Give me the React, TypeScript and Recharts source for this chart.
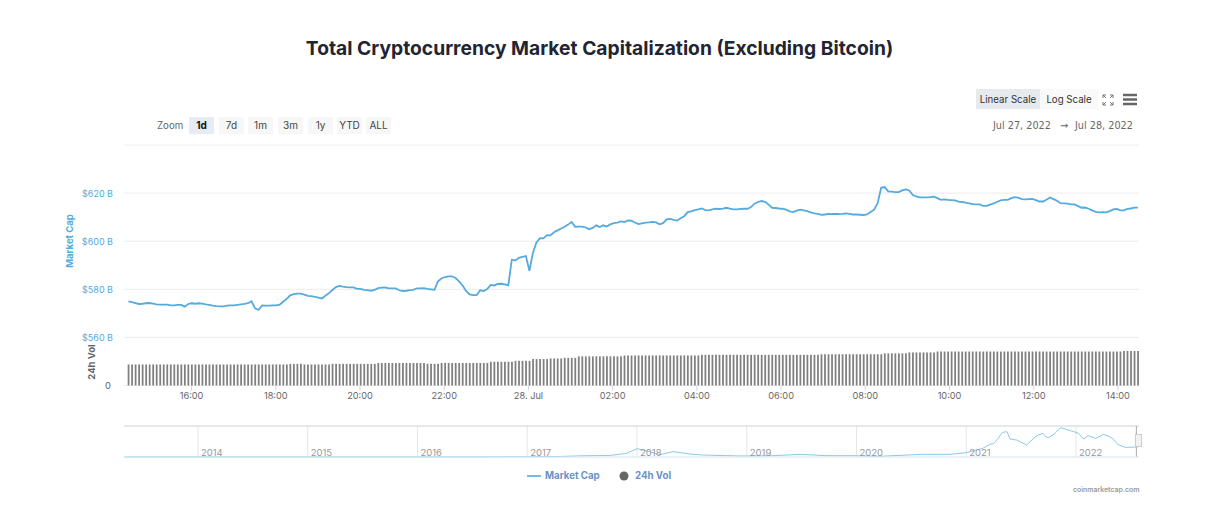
import React from 'react';
import {
  Bar,
  CartesianGrid,
  ComposedChart,
  Line,
  LineChart,
  ReferenceLine,
  XAxis,
  YAxis,
} from 'recharts';

const marketCap = [
  575.0, 574.7, 574.3, 573.9, 574.0, 574.2, 574.3, 574.0, 573.7, 573.6, 573.6, 573.6,
  573.3, 573.3, 573.5, 573.5, 572.8, 573.9, 574.2, 574.0, 574.2, 574.0, 573.7, 573.5,
  573.2, 573.0, 572.9, 572.9, 573.2, 573.3, 573.3, 573.5, 573.7, 573.9, 574.2, 575.0,
  572.1, 571.4, 573.3, 573.2, 573.2, 573.3, 573.3, 573.6, 574.8, 576.0, 577.5, 578.0,
  578.2, 578.2, 577.8, 577.3, 577.2, 576.9, 576.5, 576.2, 577.3, 578.4, 579.7, 580.9,
  581.4, 581.1, 580.9, 580.8, 580.8, 580.2, 580.2, 579.8, 579.7, 579.4, 579.8, 580.5,
  580.7, 580.8, 580.4, 580.4, 580.4, 579.6, 579.3, 579.4, 579.7, 579.8, 580.4, 580.4,
  580.5, 580.2, 580.0, 579.8, 583.3, 584.5, 585.1, 585.4, 585.4, 584.7, 583.3, 581.6,
  579.3, 577.9, 577.6, 577.6, 579.6, 579.3, 580.1, 581.8, 581.6, 582.2, 582.3, 582.0,
  581.6, 592.3, 592.0, 593.1, 593.5, 593.8, 587.7, 595.1, 599.5, 601.3, 601.2, 602.5,
  602.4, 603.7, 604.5, 605.3, 606.0, 606.9, 608.0, 606.0, 606.1, 606.1, 605.7, 605.0,
  605.5, 606.6, 605.9, 606.6, 606.1, 607.0, 607.5, 607.7, 608.2, 608.0, 608.6, 608.5,
  607.8, 607.1, 607.4, 607.7, 607.8, 608.0, 607.8, 607.0, 607.5, 609.1, 609.3, 608.9,
  608.6, 609.5, 610.4, 612.1, 612.4, 612.9, 613.2, 613.6, 612.9, 612.8, 613.2, 613.5,
  613.4, 613.5, 613.9, 613.5, 613.2, 613.2, 613.4, 613.5, 613.5, 614.2, 615.6, 616.3,
  616.7, 616.4, 615.2, 613.9, 613.8, 613.6, 613.5, 613.1, 612.4, 612.1, 612.7, 613.1,
  612.8, 612.5, 612.0, 611.6, 611.4, 611.0, 611.1, 611.4, 611.3, 611.3, 611.3, 611.4,
  611.6, 611.4, 611.1, 611.1, 611.0, 610.9, 611.1, 612.1, 613.1, 615.8, 622.2, 622.5,
  620.7, 620.6, 620.4, 620.4, 621.1, 621.5, 621.1, 619.2, 618.6, 618.2, 618.2, 618.2,
  618.3, 618.5, 617.9, 617.2, 617.4, 617.2, 617.1, 617.0, 616.5, 616.3, 616.0, 615.7,
  615.4, 615.3, 615.3, 614.7, 614.7, 615.2, 615.7, 616.4, 617.0, 617.2, 617.2, 617.9,
  618.3, 618.1, 617.5, 617.4, 617.5, 617.6, 617.1, 616.5, 616.5, 617.2, 618.2, 617.5,
  616.8, 615.8, 615.7, 615.6, 615.3, 615.3, 614.6, 613.9, 614.0, 613.5, 612.8, 612.2,
  612.0, 612.1, 612.0, 612.5, 613.2, 613.4, 612.8, 612.8, 613.4, 613.6, 614.0, 614.0,
];

const volume = [
  70, 70, 70, 70, 70, 70, 70, 70, 70, 70, 70, 70, 70, 70, 70, 70, 70, 70, 70, 70, 70, 70, 70, 70,
  70, 70, 70, 70, 70, 70, 70, 70, 70, 70, 70, 70, 70, 70, 70, 70, 70, 70, 70, 70, 70, 70, 72, 72,
  72, 72, 70, 70, 70, 70, 70, 70, 70, 70, 72, 72, 72, 72, 72, 72, 72, 72, 72, 72, 72, 72, 72, 75,
  75, 75, 75, 75, 75, 75, 75, 75, 75, 75, 75, 75, 75, 72, 72, 72, 72, 75, 75, 75, 75, 75, 75, 75,
  75, 75, 75, 75, 75, 75, 75, 79, 79, 79, 79, 79, 79, 79, 82, 82, 82, 82, 82, 88, 88, 88, 88, 88,
  90, 90, 90, 90, 92, 92, 92, 92, 97, 97, 97, 97, 97, 97, 97, 97, 97, 97, 97, 97, 97, 100, 100, 100,
  100, 100, 100, 100, 100, 100, 100, 100, 100, 100, 100, 100, 100, 100, 100, 100, 100, 100, 100, 102, 102, 102, 102, 102,
  102, 102, 102, 102, 102, 102, 102, 102, 102, 102, 102, 102, 102, 102, 102, 102, 102, 102, 102, 102, 102, 102, 102, 102,
  102, 102, 102, 102, 102, 104, 104, 104, 104, 104, 104, 104, 104, 104, 104, 104, 104, 104, 104, 104, 104, 104, 104, 107, 107,
  107, 107, 107, 107, 107, 110, 110, 110, 110, 110, 110, 110, 110, 113, 113, 113, 113, 113, 113, 113, 113, 113, 113, 113,
  113, 113, 113, 113, 113, 113, 113, 113, 113, 113, 113, 113, 113, 113, 113, 113, 113, 113, 113, 113, 113, 113, 113, 113,
  113, 113, 113, 113, 113, 113, 113, 113, 113, 113, 113, 113, 113, 113, 113, 113, 113, 113, 115, 115, 115, 115, 115, 115,
];

// hours counted from Jul 27 00:00
const hourTicks = [16, 18, 20, 22, 24, 26, 28, 30, 32, 34, 36, 38];
const capTicks = [540, 560, 580, 600, 620, 640];

const navYears = [
  2013.33, 2014, 2015, 2016, 2017, 2017.3, 2017.5, 2017.75, 2017.9, 2018, 2018.05, 2018.21, 2018.33,
  2018.48, 2018.6, 2018.94, 2019.24, 2019.49, 2019.73, 2020, 2020.21, 2020.6, 2020.85, 2021, 2021.15,
  2021.21, 2021.25, 2021.29, 2021.33, 2021.37, 2021.4, 2021.46, 2021.55, 2021.63, 2021.66, 2021.7, 2021.72, 2021.75, 2021.8, 2021.86,
  2021.98, 2022.02, 2022.07, 2022.11, 2022.18, 2022.25, 2022.3, 2022.34, 2022.38, 2022.45, 2022.56,
];
const navCaps = [
  3, 4, 5, 6, 12, 30, 70, 90, 200, 480, 420, 135, 310,
  175, 115, 60, 77, 155, 77, 77, 40, 155, 155, 250, 500,
  730, 780, 1080, 1430, 1470, 1040, 985, 695, 1180, 1290, 1370, 1190, 1120, 1330, 1700,
  1470, 1380, 1040, 1235, 1080, 1310, 1200, 1040, 730, 560, 580,
];
const navTicks = [2014, 2015, 2016, 2017, 2018, 2019, 2020, 2021, 2022];

const zoomButtons = ['1d', '7d', '1m', '3m', '1y', 'YTD', 'ALL'];
const zoomLefts = [189, 219, 248, 278, 308, 337, 366];

const chartData = marketCap.map((cap, i) => ({
  hour: 14.5 + (i * 5.012) / 60,
  cap,
  vol: volume[i],
}));
const navData = navYears.map((year, i) => ({ year, cap: navCaps[i] }));

const UI_FONT = 'Inter, sans-serif';
const LINE_COLOR = '#55aade';

const hourLabel = (h: number) => {
  if (h === 24) return '28. Jul';
  return `${String(h % 24).padStart(2, '0')}:00`;
};

const NavTick = ({ x, y, payload }: any) => (
  <text x={x + 3} y={y - 9} fontSize={9.5} fill="#999" fontFamily={UI_FONT}>
    {payload.value}
  </text>
);

const CapTick = ({ y, payload }: any) =>
  payload.value === 540 || payload.value === 640 ? null : (
    <text x={113} y={y + 4} textAnchor="end" fontSize={9} fill={LINE_COLOR} fontFamily={UI_FONT}>
      {`$${payload.value} B`}
    </text>
  );

const VolTick = ({ y, payload }: any) => (
  <text x={111} y={y + 3} textAnchor="end" fontSize={9.5} fill="#666" fontFamily={UI_FONT}>
    {payload.value}
  </text>
);

const abs = (left: number, top: number, extra: React.CSSProperties = {}): React.CSSProperties => ({
  position: 'absolute',
  left,
  top,
  ...extra,
});

export default function App() {
  return (
    <div style={abs(0, 0, { width: 1226, height: 507, background: '#fff', fontFamily: UI_FONT, overflow: 'hidden' })}>
      <div style={abs(0, 36, { width: 1199, textAlign: 'center', fontSize: 19.25, fontWeight: 700, color: '#222531', lineHeight: '24px' })}>
        Total Cryptocurrency Market Capitalization (Excluding Bitcoin)
      </div>

      <div style={abs(157, 119, { fontSize: 9.7, color: '#666', lineHeight: '14px' })}>Zoom</div>
      {zoomButtons.map((label, i) => (
        <div
          key={label}
          style={abs(zoomLefts[i], 117, {
            width: 25,
            height: 17,
            lineHeight: '17px',
            textAlign: 'center',
            fontSize: 10,
            color: i === 0 ? '#111' : '#444',
            fontWeight: i === 0 ? 700 : 400,
            background: i === 0 ? '#e6ebf5' : '#f7f7f7',
          })}
        >
          {label}
        </div>
      ))}

      <div style={abs(976, 89, { width: 64, height: 20, lineHeight: '21px', textAlign: 'center', fontSize: 9.7, color: '#333', background: '#e6e9ee' })}>
        Linear Scale
      </div>
      <div style={abs(1040, 89, { width: 58, height: 20, lineHeight: '21px', textAlign: 'center', fontSize: 9.7, color: '#333', background: '#f9f9f9' })}>
        Log Scale
      </div>
      <svg style={abs(1098, 89)} width={42} height={20}>
        <path d="M5 6 L8 9 M5 6 h3 M5 6 v3 M15 6 L12 9 M15 6 h-3 M15 6 v3 M5 16 L8 13 M5 16 h3 M5 16 v-3 M15 16 L12 13 M15 16 h-3 M15 16 v-3" stroke="#777" strokeWidth={1} fill="none" />
        <path d="M25 6 h14 M25 10.5 h14 M25 15 h14" stroke="#666" strokeWidth={2.4} />
      </svg>
      <div style={abs(993, 119, { fontSize: 9.7, color: '#666', lineHeight: '14px', fontFamily: 'DejaVu Sans', whiteSpace: 'pre' })}>
        Jul 27, 2022
      </div>
      <div style={abs(1060, 119, { fontSize: 9.7, color: '#666', lineHeight: '14px', fontFamily: 'DejaVu Sans' })}>→</div>
      <div style={abs(1075, 119, { fontSize: 9.7, color: '#666', lineHeight: '14px', fontFamily: 'DejaVu Sans', whiteSpace: 'pre' })}>
        Jul 28, 2022
      </div>

      <div style={abs(0, 0)}>
        <ComposedChart
          width={1226}
          height={420}
          data={chartData}
          margin={{ left: 122, right: 87, top: 145, bottom: 0 }}
        >
          <CartesianGrid yAxisId="cap" vertical={false} stroke="#ececec" />
          <XAxis
            dataKey="hour"
            type="number"
            scale="linear"
            domain={[14.395, 38.5]}
            ticks={hourTicks}
            tickFormatter={hourLabel}
            axisLine={false}
            tickLine={{ stroke: '#ccd6eb' }}
            tickSize={5}
            tick={{ fontSize: 9.2, fill: '#666', fontFamily: UI_FONT }}
            height={34.5}
            interval={0}
          />
          <YAxis
            yAxisId="cap"
            width={1}
            domain={[540, 640]}
            ticks={capTicks}
            interval={0}
            axisLine={false}
            tickLine={false}
            tick={<CapTick />}
          />
          <YAxis
            yAxisId="vol"
            width={1}
            domain={[0, 800]}
            ticks={[0]}
            axisLine={false}
            tickLine={false}
            tick={<VolTick />}
          />
          <Bar yAxisId="vol" dataKey="vol" fill="#808080" barSize={1.8} isAnimationActive={false} />
          <Line
            yAxisId="cap"
            dataKey="cap"
            type="linear"
            stroke={LINE_COLOR}
            strokeWidth={1.8}
            dot={false}
            isAnimationActive={false}
          />
        </ComposedChart>
      </div>
      <svg style={abs(58, 208)} width={24} height={66}>
        <text transform="translate(12,33) rotate(-90)" textAnchor="middle" dominantBaseline="middle" fontSize={9.5} fontWeight={700} fill={LINE_COLOR} fontFamily={UI_FONT}>
          Market Cap
        </text>
      </svg>
      <svg style={abs(80, 340)} width={24} height={44}>
        <text transform="translate(12,22) rotate(-90)" textAnchor="middle" dominantBaseline="middle" fontSize={9.5} fontWeight={700} fill="#666" fontFamily={UI_FONT}>
          24h Vol
        </text>
      </svg>

      <div style={abs(0, 420)}>
        <LineChart
          width={1226}
          height={40}
          data={navData}
          margin={{ left: 124, right: 87, top: 6, bottom: 2 }}
        >
          <CartesianGrid horizontal={false} syncWithTicks stroke="#e6e6e6" />
          <XAxis
            dataKey="year"
            type="number"
            scale="linear"
            domain={[2013.326, 2022.574]}
            ticks={navTicks}
            interval={0}
            height={1}
            axisLine={{ stroke: '#d5e6f0' }}
            tickLine={false}
            tick={<NavTick />}
            tickFormatter={(v: number) => String(v)}
          />
          <YAxis hide domain={[0, 1800]} />
          <ReferenceLine y={1800} stroke="#d2d2d2" />
          <ReferenceLine x={2022.55} stroke="#aaa" />
          <Line dataKey="cap" type="linear" stroke="#8cc8ea" strokeWidth={1} dot={false} isAnimationActive={false} />
        </LineChart>
      </div>
      <div style={abs(1135, 434, { width: 7, height: 13, background: '#f2f2f2', border: '1px solid #ccc', boxSizing: 'border-box' })} />

      <svg style={abs(525, 470)} width={20} height={12}>
        <line x1={2} x2={16} y1={6} y2={6} stroke={LINE_COLOR} strokeWidth={1.6} />
      </svg>
      <div style={abs(545, 469, { fontSize: 9.7, fontWeight: 700, color: '#6a93c6', lineHeight: '14px' })}>Market Cap</div>
      <svg style={abs(618, 470)} width={12} height={12}>
        <circle cx={6} cy={6} r={4.5} fill="#666" />
      </svg>
      <div style={abs(635, 469, { fontSize: 9.7, fontWeight: 700, color: '#6a93c6', lineHeight: '14px' })}>24h Vol</div>
      <div style={abs(1073, 485, { fontSize: 6.9, fontWeight: 600, color: '#999', lineHeight: '10px' })}>coinmarketcap.com</div>
    </div>
  );
}
